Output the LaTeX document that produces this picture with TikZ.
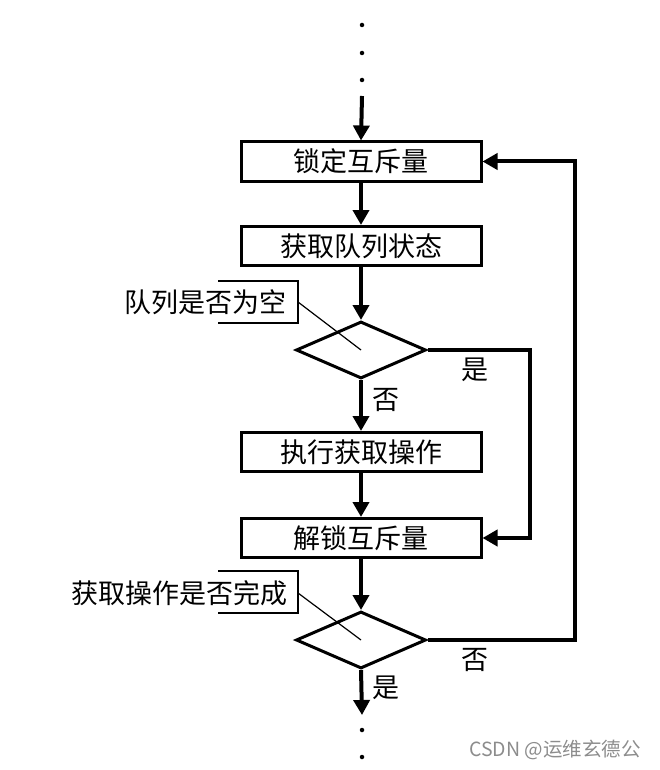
\documentclass[tikz,border=0pt]{standalone}
\usepackage{fontspec}
\newfontfamily\cjk{Noto Sans CJK SC}
\usetikzlibrary{shapes.geometric,arrows.meta}
\begin{document}
\begin{tikzpicture}[x=1pt,y=-1pt,
  font=\cjk\fontsize{27}{30}\selectfont,
  procbox/.style={draw,line width=3pt,minimum width=240pt,minimum height=39pt,inner sep=0pt},
  decide/.style={draw,diamond,line width=3pt,minimum width=130pt,minimum height=57pt,aspect=2.25,inner sep=0pt},
  arr/.style={line width=4pt,-{Triangle[length=15pt,width=16pt]}},
  thin/.style={line width=1.2pt},
  dot/.style={circle,fill,inner sep=0pt,minimum size=4.5pt},
  lab/.style={inner sep=0pt}]
\useasboundingbox (0,0) rectangle (659,770);
% dots top
\node[dot] (t1) at (362,25) {};
\node[dot] (t2) at (362,53) {};
\node[dot] (t3) at (362,80) {};
\coordinate (start) at (362,96);
% boxes
\node[procbox] (b1) at (361,161.5) {锁定互斥量};
\node[procbox] (b2) at (361,246) {获取队列状态};
\node[decide] (d1) at (361,350) {};
\node[procbox] (b3) at (361,452) {执行获取操作};
\node[procbox] (b4) at (361,538) {解锁互斥量};
\node[decide] (d2) at (361,640) {};
\coordinate (end) at (362,715);
\node[dot] (e1) at (362,730) {};
\node[dot] (e2) at (362,757) {};
% flow
\draw[arr] (start) -- (b1.north);
\draw[arr] (b1.south) -- (b2.north);
\draw[arr] (b2.south) -- (d1.north);
\draw[arr] (d1.south) -- (b3.north);
\draw[arr] (b3.south) -- (b4.north);
\draw[arr] (b4.south) -- (d2.north);
\draw[arr] (d2.south) -- (end);
\coordinate (r1) at (530,350);
\coordinate (r2) at (575,640);
\draw[arr] (d1.east) -- (r1) |- (b4.east);
\draw[arr] (d2.east) -- (r2) |- (b1.east);
% branch labels
\node[lab] (y1) at (475,370) {是};
\node[lab] (n1) at (386,400) {否};
\node[lab] (n2) at (475,660) {否};
\node[lab] (y2) at (386,688) {是};
% annotation 1
\node[lab,anchor=east] (a1) at (287,302) {队列是否为空};
\draw[thin] (218,281) -- (298,281) -- (298,323) -- (218,323);
\coordinate (k1) at (298,302);
\draw[thin] (k1) -- (d1.center);
% annotation 2
\node[lab,anchor=east] (a2) at (288,593) {获取操作是否完成};
\draw[thin] (218,571) -- (298,571) -- (298,613) -- (218,613);
\coordinate (k2) at (298,593);
\draw[thin] (k2) -- (d2.center);
% watermark
\node[lab,anchor=east,text=black!45,font=\cjk\fontsize{19.5}{22}\selectfont] (wm) at (641,750) {CSDN @运维玄德公};
\end{tikzpicture}
\end{document}
